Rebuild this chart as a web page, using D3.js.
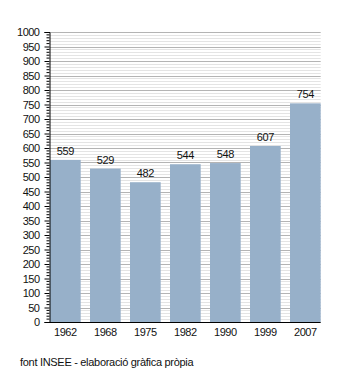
<!DOCTYPE html>
<html>
<head>
<meta charset="utf-8">
<script src="https://cdn.jsdelivr.net/npm/d3@7"></script>
<style>
  html, body { margin: 0; padding: 0; background: #fff; }
  svg { display: block; font-family: "Liberation Sans", Arial, sans-serif; }
</style>
</head>
<body>
<svg id="chart" width="350" height="373"></svg>
<script>
// Population by census year
const years = ["1962", "1968", "1975", "1982", "1990", "1999", "2007"];
const population = [559, 529, 482, 544, 548, 607, 754];
const yTickValues = [0, 50, 100, 150, 200, 250, 300, 350, 400, 450, 500, 550, 600, 650, 700, 750, 800, 850, 900, 950, 1000];
const sourceNote = "font INSEE - elaboració gràfica pròpia";

const svg = d3.select("#chart");
const plotLeft = 50, plotRight = 320.7, plotTop = 32, plotBottom = 322;

const x = d3.scaleBand().domain(years).range([plotLeft, plotRight])
  .paddingInner(0.2325).paddingOuter(0);
const y = d3.scaleLinear().domain([0, 1000]).range([plotBottom, plotTop]);

// minor grid every 10
const minor = d3.range(0, 1001, 10).filter(v => v % 50 !== 0);
svg.append("g").selectAll("line").data(minor).join("line")
  .attr("x1", plotLeft).attr("x2", plotRight)
  .attr("y1", d => Math.round(y(d)) + 0.5).attr("y2", d => Math.round(y(d)) + 0.5)
  .attr("stroke", "#e4e4e4").attr("stroke-width", 1);

// major grid every 50
svg.append("g").selectAll("line").data(yTickValues.filter(v => v > 0)).join("line")
  .attr("x1", plotLeft).attr("x2", plotRight)
  .attr("y1", d => Math.round(y(d)) + 0.5).attr("y2", d => Math.round(y(d)) + 0.5)
  .attr("stroke", "#b4b4b4").attr("stroke-width", 1);

// bars
svg.append("g").selectAll("rect").data(years).join("rect")
  .attr("x", d => x(d))
  .attr("width", x.bandwidth())
  .attr("y", (d, i) => y(population[i]))
  .attr("height", (d, i) => plotBottom - y(population[i]))
  .attr("fill", "#97b0c9");

// value labels
svg.append("g").selectAll("text").data(years).join("text")
  .attr("x", d => x(d) + x.bandwidth() / 2)
  .attr("y", (d, i) => y(population[i]) - 5)
  .attr("text-anchor", "middle")
  .attr("font-size", 11)
  .attr("letter-spacing", "-0.4px")
  .attr("fill", "#111")
  .text((d, i) => population[i]);

// y axis with minor ticks
const yAxis = d3.axisLeft(y).tickValues(yTickValues).tickFormat(d3.format("d"))
  .tickSize(5).tickPadding(5);
const gy = svg.append("g").attr("transform", `translate(${plotLeft - 0.5},0)`).call(yAxis);
gy.select(".domain").attr("stroke", "#000");
gy.selectAll(".tick line").attr("stroke", "#000");
gy.selectAll(".tick text").attr("font-size", 11).attr("letter-spacing", "-0.5px")
  .attr("fill", "#111").attr("font-family", "Liberation Sans, Arial, sans-serif");
gy.append("g").selectAll("line").data(minor).join("line")
  .attr("x1", -3).attr("x2", 0)
  .attr("y1", d => y(d)).attr("y2", d => y(d))
  .attr("stroke", "#000");

// x axis baseline and labels
const xAxis = d3.axisBottom(x).tickSize(0).tickPadding(6);
const gx = svg.append("g").attr("transform", `translate(0,${plotBottom})`).call(xAxis);
gx.select(".domain").attr("stroke", "#000").attr("d", `M${plotLeft - 0.5},0.5H${plotRight}`);
gx.selectAll(".tick text").attr("font-size", 11).attr("letter-spacing", "-0.4px")
  .attr("fill", "#111").attr("font-family", "Liberation Sans, Arial, sans-serif");

// source note
svg.append("text")
  .attr("x", 20).attr("y", 366)
  .attr("font-size", 11).attr("letter-spacing", "-0.3px")
  .attr("fill", "#111")
  .text(sourceNote);
</script>
</body>
</html>
